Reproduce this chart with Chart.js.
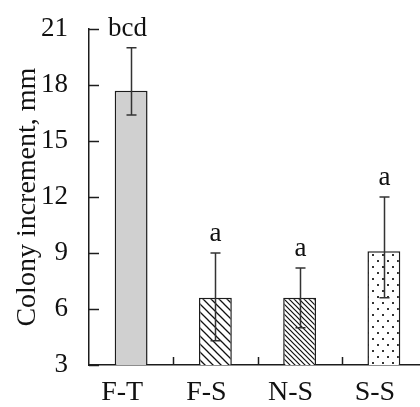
<!DOCTYPE html>
<html>
<head>
<meta charset="utf-8">
<script src="https://cdn.jsdelivr.net/npm/chart.js@4.4.1/dist/chart.umd.min.js"></script>
<style>
  html, body { margin: 0; padding: 0; background: #fff; overflow: hidden; }
  #wrap { position: relative; width: 428px; height: 407px; }
  .probe { font-family: "Liberation Serif"; position: absolute; left: -999px; }
</style>
</head>
<body>
<div id="wrap"><canvas id="chart"></canvas></div>
<span class="probe">F-T 0123456789 bcd</span>
<script>
// values
const categories = ['F-T', 'F-S', 'N-S', 'S-S'];
const means = [17.7, 6.6, 6.6, 9.1];
const errHigh = [20.0, 9.0, 8.2, 12.0];
const errLow = [16.4, 4.3, 5.0, 6.6];
const letters = ['bcd', 'a', 'a', 'a'];
const yTicks = [3, 6, 9, 12, 15, 18, 21];

const FONT = '"Liberation Serif", "Times New Roman", serif';
const INK = '#1c1c1c';

function makePattern(kind) {
  const c = document.createElement('canvas');
  const ctx = c.getContext('2d');
  if (kind === 'hatch' || kind === 'hatchDense') {
    const p = kind === 'hatch' ? 8 : 5;
    c.width = p; c.height = p;
    ctx.fillStyle = '#fff';
    ctx.fillRect(0, 0, p, p);
    ctx.strokeStyle = '#111';
    ctx.lineWidth = kind === 'hatch' ? 1.3 : 1.2;
    ctx.beginPath();
    ctx.moveTo(-1, -1); ctx.lineTo(p + 1, p + 1);
    ctx.moveTo(-1, p - 1); ctx.lineTo(1, p + 1);
    ctx.moveTo(p - 1, -1); ctx.lineTo(p + 1, 1);
    ctx.stroke();
  } else {
    // staggered dots
    c.width = 10; c.height = 12;
    ctx.fillStyle = '#fff';
    ctx.fillRect(0, 0, 10, 12);
    ctx.fillStyle = '#333';
    ctx.fillRect(2, 2, 2, 2);
    ctx.fillRect(7, 8, 2, 2);
  }
  return ctx.createPattern(c, 'repeat');
}

const extras = {
  id: 'extras',
  afterDatasetsDraw(chart) {
    const ctx = chart.ctx;
    const x = chart.scales.x, y = chart.scales.y;
    const area = chart.chartArea;
    ctx.save();
    ctx.strokeStyle = INK;
    ctx.lineWidth = 1.5;
    // y tick marks pointing inward
    yTicks.forEach(v => {
      const py = Math.round(y.getPixelForValue(v)) + 0.5;
      ctx.beginPath();
      ctx.moveTo(area.left, py);
      ctx.lineTo(area.left + 10, py);
      ctx.stroke();
    });
    // x tick marks between categories, pointing up
    for (let i = 0; i < categories.length - 1; i++) {
      const px = Math.round((x.getPixelForValue(i) + x.getPixelForValue(i + 1)) / 2) + 0.5;
      ctx.beginPath();
      ctx.moveTo(px, area.bottom);
      ctx.lineTo(px, area.bottom - 8);
      ctx.stroke();
    }
    // error bars
    ctx.strokeStyle = '#333';
    categories.forEach((c, i) => {
      const px = Math.round(x.getPixelForValue(i)) + 0.5;
      const top = y.getPixelForValue(errHigh[i]);
      const bot = y.getPixelForValue(errLow[i]);
      ctx.beginPath();
      ctx.moveTo(px, top); ctx.lineTo(px, bot);
      ctx.moveTo(px - 5, top); ctx.lineTo(px + 5, top);
      ctx.moveTo(px - 5, bot); ctx.lineTo(px + 5, bot);
      ctx.stroke();
      // significance letters
      ctx.fillStyle = '#111';
      ctx.font = '27px ' + FONT;
      ctx.textAlign = 'center';
      ctx.textBaseline = 'alphabetic';
      ctx.fillText(letters[i], px - (i === 0 ? 4 : 0), top - 12);
    });
    ctx.restore();
  }
};

function draw() {
  const fills = ['#d0d0d0', makePattern('hatch'), makePattern('hatchDense'), makePattern('dots')];
  new Chart(document.getElementById('chart'), {
    type: 'bar',
    data: {
      labels: categories,
      datasets: [{
        data: means,
        backgroundColor: fills,
        borderColor: INK,
        borderWidth: 1.5,
        barPercentage: 0.39,
        categoryPercentage: 1
      }]
    },
    options: {
      responsive: true,
      maintainAspectRatio: false,
      animation: false,
      layout: { padding: { top: 20, right: 2, left: 0, bottom: 0 } },
      plugins: { legend: { display: false }, tooltip: { enabled: false } },
      scales: {
        x: {
          grid: { display: false },
          border: { display: true, color: INK, width: 1.5 },
          ticks: { color: '#111', font: { family: FONT, size: 28 }, padding: 3, labelOffset: -9 },
          afterFit(scale) { scale.height = 42; }
        },
        y: {
          min: 3,
          max: 21,
          grid: { display: false },
          border: { display: true, color: INK, width: 1.5 },
          afterBuildTicks(scale) { scale.ticks = yTicks.map(v => ({ value: v })); },
          ticks: { color: '#111', font: { family: FONT, size: 27 }, padding: 13 },
          title: {
            display: true,
            text: 'Colony increment, mm',
            color: '#111',
            font: { family: FONT, size: 28 },
            padding: { top: 11, bottom: 0 }
          },
          afterFit(scale) { scale.width = 89; }
        }
      }
    },
    plugins: [extras]
  });
}

document.fonts.load('27px "Liberation Serif"').then(draw, draw);
</script>
</body>
</html>
